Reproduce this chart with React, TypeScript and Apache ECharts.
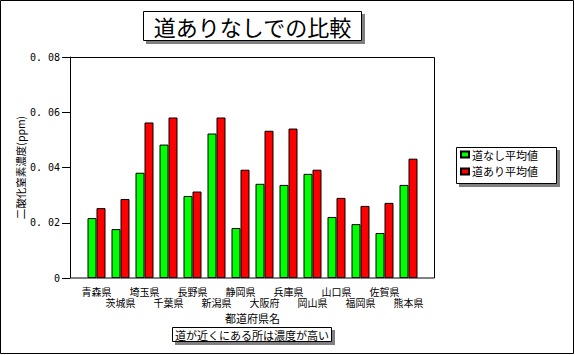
import React, { useEffect, useRef } from "react";
import * as echarts from "echarts";

const categories = ["青森県", "茨城県", "埼玉県", "千葉県", "長野県", "新潟県", "静岡県", "大阪府", "兵庫県", "岡山県", "山口県", "福岡県", "佐賀県", "熊本県"];
const withoutRoad = [0.0217, 0.0177, 0.0381, 0.0483, 0.0297, 0.0523, 0.0181, 0.0341, 0.0337, 0.0377, 0.0221, 0.0195, 0.0163, 0.0337];
const withRoad = [0.0253, 0.0286, 0.0563, 0.0581, 0.0313, 0.0581, 0.0392, 0.0533, 0.0541, 0.0392, 0.029, 0.0261, 0.0272, 0.0432];
const seriesNames = ["道なし平均値", "道あり平均値"];
const titleText = "道ありなしでの比較";
const noteText = "道が近くにある所は濃度が高い";
const yName = "二酸化窒素濃度(ppm)";
const xName = "都道府県名";

const FONT = "'Noto Sans CJK JP', sans-serif";

export default function App() {
  const ref = useRef<HTMLDivElement>(null);
  useEffect(() => {
    if (!ref.current) return;
    const chart = echarts.init(ref.current, null, { renderer: "svg" });
    chart.setOption({
      animation: false,
      backgroundColor: "#ffffff",
      textStyle: { fontFamily: FONT, color: "#000" },
      grid: { left: 84.5, top: 57, width: 336, height: 221 },
      xAxis: {
        type: "category",
        data: categories,
        axisLine: { show: false },
        axisTick: { show: false },
        axisLabel: {
          interval: 0,
          fontSize: 10,
          lineHeight: 11,
          margin: 8,
          color: "#000",
          fontFamily: FONT,
          formatter: (v: string, i: number) => (i % 2 ? "\n" + v : v),
        },
        name: xName,
        nameLocation: "middle",
        nameGap: 34,
        nameMoveOverlap: false,
        nameTextStyle: { fontSize: 11, color: "#000", fontFamily: FONT },
      },
      yAxis: {
        type: "value",
        min: 0,
        max: 0.08,
        interval: 0.02,
        offset: 14.5,
        axisLine: { show: true, lineStyle: { color: "#000", width: 1 } },
        axisTick: { show: true, length: 8, lineStyle: { color: "#000" } },
        splitLine: { show: false },
        axisLabel: {
          margin: 10,
          fontSize: 10,
          color: "#000",
          fontFamily: "'DejaVu Sans Mono', monospace",
          formatter: (v: number) => (v === 0 ? "0" : v.toFixed(2).replace(".", ". ")),
        },
        name: yName,
        nameLocation: "middle",
        nameRotate: 90,
        nameGap: 44,
        nameMoveOverlap: false,
        nameTextStyle: { fontSize: 10.5, color: "#000", fontFamily: FONT },
      },
      legend: {
        orient: "vertical",
        left: 460,
        top: 149,
        itemWidth: 8,
        itemHeight: 6,
        itemGap: 6,
        icon: "rect",
        data: seriesNames,
        textStyle: { fontSize: 11, color: "#000", fontFamily: FONT, padding: [0, 0, 0, -2] },
        padding: 0,
      },
      series: [
        {
          name: seriesNames[0],
          type: "bar",
          data: withoutRoad,
          barWidth: 9,
          barGap: "0%",
          itemStyle: { color: "#00ff00", borderColor: "#000", borderWidth: 1 },
        },
        {
          name: seriesNames[1],
          type: "bar",
          data: withRoad,
          barWidth: 9,
          barGap: "0%",
          itemStyle: { color: "#ff0000", borderColor: "#000", borderWidth: 1 },
        },
      ],
      graphic: [
        { type: "rect", z: 0, silent: true, shape: { x: 0.5, y: 0.5, width: 573, height: 353 }, style: { fill: "none", stroke: "#000", lineWidth: 1 } },
        { type: "rect", z: 1, silent: true, shape: { x: 70.5, y: 57.5, width: 364, height: 220.5 }, style: { fill: "none", stroke: "#000", lineWidth: 1 } },
        // title
        { type: "rect", z: 1, silent: true, shape: { x: 146, y: 14, width: 219, height: 30 }, style: { fill: "#808080" } },
        { type: "rect", z: 2, silent: true, shape: { x: 143.5, y: 11.5, width: 218, height: 29 }, style: { fill: "#fff", stroke: "#000", lineWidth: 1 } },
        { type: "text", z: 3, silent: true, x: 252.5, y: 26, style: { text: titleText, fontSize: 22, fontFamily: FONT, fill: "#000", align: "center", verticalAlign: "middle" } },
        // legend box
        { type: "rect", z: -1, silent: true, shape: { x: 459, y: 150, width: 101, height: 37 }, style: { fill: "#808080" } },
        { type: "rect", z: -1, silent: true, shape: { x: 456.5, y: 147.5, width: 100, height: 36 }, style: { fill: "#fff", stroke: "#000", lineWidth: 1 } },
        // note
        { type: "rect", z: 1, silent: true, shape: { x: 175, y: 330, width: 160, height: 15 }, style: { fill: "#808080" } },
        { type: "rect", z: 2, silent: true, shape: { x: 172.5, y: 327.5, width: 159, height: 14 }, style: { fill: "#fff", stroke: "#000", lineWidth: 1 } },
        { type: "text", z: 3, silent: true, x: 252, y: 335, style: { text: noteText, fontSize: 11, fontFamily: FONT, fill: "#000", align: "center", verticalAlign: "middle" } },
      ],
    });
    return () => chart.dispose();
  }, []);
  return <div ref={ref} style={{ position: "absolute", left: 0, top: 0, width: 575, height: 355 }} />;
}
